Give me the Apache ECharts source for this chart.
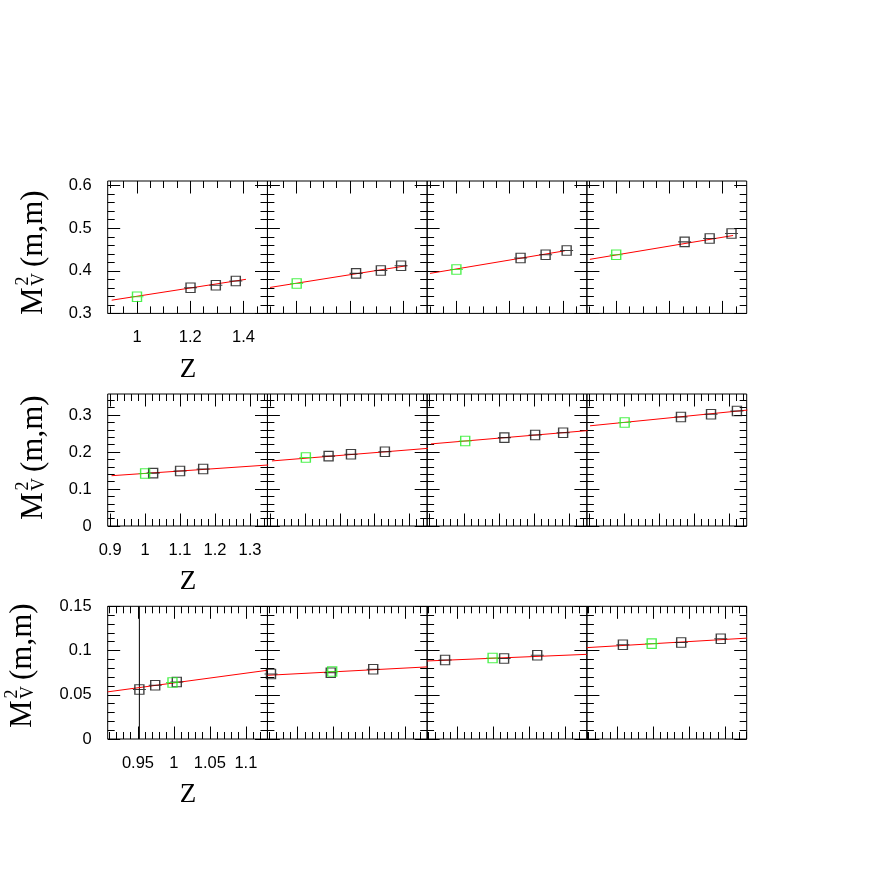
<!DOCTYPE html>
<html><head><meta charset="utf-8">
<script src="https://cdn.jsdelivr.net/npm/echarts@6/dist/echarts.min.js"></script>
<style>html,body{margin:0;padding:0;background:#fff}#c{width:872px;height:872px}</style>
</head><body><div id="c"></div>
<script>
// ---------- Row 1 data (4 panels) ----------
const row1GreenZ = [1.0, 1.0, 1.0, 1.0];
const row1GreenM = [0.339, 0.370, 0.403, 0.438];
const row1BlackZ = [[1.201, 1.296, 1.371], [1.223, 1.316, 1.392], [1.241, 1.335, 1.414], [1.257, 1.351, 1.433]];
const row1BlackM = [[0.360, 0.366, 0.376], [0.394, 0.401, 0.412], [0.430, 0.438, 0.448], [0.468, 0.476, 0.4875]];
const row1FitZ = [[0.905, 1.409], [0.900, 1.413], [0.901, 1.407], [0.901, 1.439]];
const row1FitM = [[0.331, 0.380], [0.361, 0.412], [0.394, 0.447], [0.427, 0.483]];
// ---------- Row 2 data ----------
const row2GreenZ = [1.0, 1.003, 1.002, 1.001];
const row2GreenM = [0.142, 0.185, 0.230, 0.280];
const row2BlackZ = [[1.023, 1.100, 1.166], [1.068, 1.132, 1.229], [1.114, 1.202, 1.282], [1.162, 1.248, 1.322]];
const row2BlackM = [[0.143, 0.149, 0.154], [0.189, 0.194, 0.201], [0.239, 0.246, 0.252], [0.295, 0.302, 0.311]];
const row2FitZ = [[0.904, 1.352], [0.906, 1.352], [0.904, 1.352], [0.902, 1.352]];
const row2FitM = [[0.136, 0.165], [0.176, 0.210], [0.222, 0.258], [0.271, 0.3135]];
// ---------- Row 3 data ----------
const row3GreenZ = [0.998, 0.998, 0.999, 0.998];
const row3GreenM = [0.0638, 0.0762, 0.0916, 0.1078];
const row3BlackZ = [[0.952, 0.974, 1.004], [0.913, 0.996, 1.055], [0.933, 1.015, 1.061], [0.958, 1.039, 1.094]];
const row3BlackM = [[0.056, 0.0608, 0.0645], [0.0735, 0.075, 0.0788], [0.0893, 0.0909, 0.0946], [0.1066, 0.109, 0.1134]];
const row3FitZ = [[0.908, 1.130], [0.908, 1.130], [0.908, 1.130], [0.908, 1.130]];
const row3FitM = [[0.0533, 0.0777], [0.072, 0.0815], [0.0882, 0.0957], [0.1033, 0.114]];
// wide error bar of first point, row 3 panel 1: [Z, low, high]
const row3P1ErrBar = [0.952, 0.0, 0.15];

// ---------- Ticks / labels ----------
const row1XMajor = [1.0, 1.2, 1.4];
const row1XMinor = [0.9, 0.95, 1.05, 1.1, 1.15, 1.25, 1.3, 1.35, 1.45];
const row1YMajor = [0.3, 0.4, 0.5, 0.6];
const row1YMinor = [0.32, 0.34, 0.36, 0.38, 0.42, 0.44, 0.46, 0.48, 0.52, 0.54, 0.56, 0.58];
const row1XLabels = [1, 1.2, 1.4];
const row1YLabels = [0.3, 0.4, 0.5, 0.6];

const row2XMajor = [0.9, 1.0, 1.1, 1.2, 1.3];
const row2XMinor = [0.92, 0.94, 0.96, 0.98, 1.02, 1.04, 1.06, 1.08, 1.12, 1.14, 1.16, 1.18, 1.22, 1.24, 1.26, 1.28, 1.32, 1.34];
const row2YMajor = [0, 0.1, 0.2, 0.3];
const row2YMinor = [0.02, 0.04, 0.06, 0.08, 0.12, 0.14, 0.16, 0.18, 0.22, 0.24, 0.26, 0.28, 0.32, 0.34];
const row2XLabels = [0.9, 1, 1.1, 1.2, 1.3];
const row2YLabels = [0, 0.1, 0.2, 0.3];

const row3XMajor = [0.95, 1.0, 1.05, 1.1];
const row3XMinor = [0.91, 0.92, 0.93, 0.94, 0.96, 0.97, 0.98, 0.99, 1.01, 1.02, 1.03, 1.04, 1.06, 1.07, 1.08, 1.09, 1.11, 1.12, 1.13];
const row3YMajor = [0, 0.05, 0.1, 0.15];
const row3YMinor = [0.01, 0.02, 0.03, 0.04, 0.06, 0.07, 0.08, 0.09, 0.11, 0.12, 0.13, 0.14];
const row3XLabels = [0.95, 1, 1.05, 1.1];
const row3YLabels = [0, 0.05, 0.1, 0.15];

const xTitle = 'Z';

// ---------- Layout ----------
const panelLefts = [107.7, 267.4, 427.1, 586.9];
const panelWidth = 159.8;
const rows = [
  {top: 181, height: 132.4, xMin: 0.890, xMax: 1.490, yMin: 0.3, yMax: 0.611,
   xMajor: row1XMajor, xMinor: row1XMinor, yMajor: row1YMajor, yMinor: row1YMinor,
   xLabels: row1XLabels, yLabels: row1YLabels,
   gz: row1GreenZ, gm: row1GreenM, bz: row1BlackZ, bm: row1BlackM, fz: row1FitZ, fm: row1FitM,
   zTitle: [188, 370], yTitle: [43, 315]},
  {top: 394, height: 132, xMin: 0.893, xMax: 1.350, yMin: 0, yMax: 0.357,
   xMajor: row2XMajor, xMinor: row2XMinor, yMajor: row2YMajor, yMinor: row2YMinor,
   xLabels: row2XLabels, yLabels: row2YLabels,
   gz: row2GreenZ, gm: row2GreenM, bz: row2BlackZ, bm: row2BlackM, fz: row2FitZ, fm: row2FitM,
   zTitle: [188, 582], yTitle: [43, 520]},
  {top: 606.3, height: 132.7, xMin: 0.908, xMax: 1.130, yMin: 0, yMax: 0.15,
   xMajor: row3XMajor, xMinor: row3XMinor, yMajor: row3YMajor, yMinor: row3YMinor,
   xLabels: row3XLabels, yLabels: row3YLabels,
   gz: row3GreenZ, gm: row3GreenM, bz: row3BlackZ, bm: row3BlackM, fz: row3FitZ, fm: row3FitM,
   zTitle: [188, 795], yTitle: [32, 728]}
];

const MAJ = 12.5, MIN = 7;
const labelFont = {fontFamily: '"Liberation Sans", Arial, sans-serif', fontSize: 16.5, color: '#000'};
const grids = [], xAxes = [], yAxes = [], series = [], graphics = [];
const squareSym = 'path://M2,0L11,0L11,9L2,9ZM0,4.5L13,4.5';

function mkAxis(gi, pos, min, max, ticks, len, labels) {
  const ax = {
    type: 'value', gridIndex: gi, position: pos, min: min, max: max, scale: true,
    axisLine: {show: false, onZero: false}, splitLine: {show: false},
    axisTick: {show: true, inside: true, length: len, customValues: ticks, lineStyle: {color: '#000', width: 1}},
    axisLabel: {show: false}
  };
  if (labels) {
    ax.axisLabel = Object.assign({show: true, customValues: labels, margin: 16, formatter: v => String(v)}, labelFont);
  }
  return ax;
}

rows.forEach((r, ri) => {
  for (let p = 0; p < 4; p++) {
    const gi = grids.length;
    grids.push({left: panelLefts[p], top: r.top, width: panelWidth, height: r.height,
      show: true, borderColor: '#000', borderWidth: 1, backgroundColor: 'transparent', outerBoundsMode: 'none'});
    const xi = xAxes.length, yi = yAxes.length;
    xAxes.push(mkAxis(gi, 'bottom', r.xMin, r.xMax, r.xMajor, MAJ, p === 0 ? r.xLabels : null));
    xAxes.push(mkAxis(gi, 'bottom', r.xMin, r.xMax, r.xMinor, MIN, null));
    xAxes.push(mkAxis(gi, 'top', r.xMin, r.xMax, r.xMajor, MAJ, null));
    xAxes.push(mkAxis(gi, 'top', r.xMin, r.xMax, r.xMinor, MIN, null));
    yAxes.push(mkAxis(gi, 'left', r.yMin, r.yMax, r.yMajor, MAJ, p === 0 ? r.yLabels : null));
    yAxes.push(mkAxis(gi, 'left', r.yMin, r.yMax, r.yMinor, MIN, null));
    yAxes.push(mkAxis(gi, 'right', r.yMin, r.yMax, r.yMajor, MAJ, null));
    yAxes.push(mkAxis(gi, 'right', r.yMin, r.yMax, r.yMinor, MIN, null));

    series.push({type: 'line', xAxisIndex: xi, yAxisIndex: yi, clip: true, symbol: 'none', silent: true,
      lineStyle: {color: '#ff0000', width: 1}, z: 3,
      data: [[r.fz[p][0], r.fm[p][0]], [r.fz[p][1], r.fm[p][1]]]});
    series.push({type: 'scatter', xAxisIndex: xi, yAxisIndex: yi, symbol: squareSym, symbolSize: [13, 9.5], z: 4,
      itemStyle: {color: 'rgba(0,0,0,0)', borderColor: '#111', borderWidth: 1.2},
      data: r.bz[p].map((z, k) => [z, r.bm[p][k]])});
    series.push({type: 'scatter', xAxisIndex: xi, yAxisIndex: yi, symbol: squareSym, symbolSize: [13, 9.5], z: 5,
      itemStyle: {color: 'rgba(0,0,0,0)', borderColor: '#22ee22', borderWidth: 1.2},
      data: [[r.gz[p], r.gm[p]]]});
    if (ri === 2 && p === 0) {
      series.push({type: 'line', xAxisIndex: xi, yAxisIndex: yi, clip: true, symbol: 'none', silent: true,
        lineStyle: {color: '#000', width: 1}, z: 2,
        data: [[row3P1ErrBar[0], row3P1ErrBar[1]], [row3P1ErrBar[0], row3P1ErrBar[2]]]});
    }
  }
  // x title
  graphics.push({type: 'text', x: r.zTitle[0], y: r.zTitle[1],
    style: {text: xTitle, font: '27px "Liberation Serif", serif', fill: '#000', align: 'center', verticalAlign: 'middle'}});
  // y title M^2_V(m,m), rotated
  const t = (str, x, base, size) => ({type: 'text', x: x, y: base - 0.3 * size,
    style: {text: str, font: size + 'px "Liberation Serif", serif', fill: '#000', align: 'left', verticalAlign: 'middle'}});
  graphics.push({type: 'group', x: r.yTitle[0], y: r.yTitle[1], rotation: Math.PI / 2, children: [
    t('M', 0, 0, 31),
    t('2', 29.5, -14.5, 18),
    t('V', 29, 1.5, 18),
    t('(m,m)', 48, 0, 31)
  ]});
});

const chart = echarts.init(document.getElementById('c'), null, {renderer: 'canvas'});
chart.setOption({
  backgroundColor: '#fff',
  animation: false,
  grid: grids, xAxis: xAxes, yAxis: yAxes, series: series, graphic: graphics
});
</script></body></html>
